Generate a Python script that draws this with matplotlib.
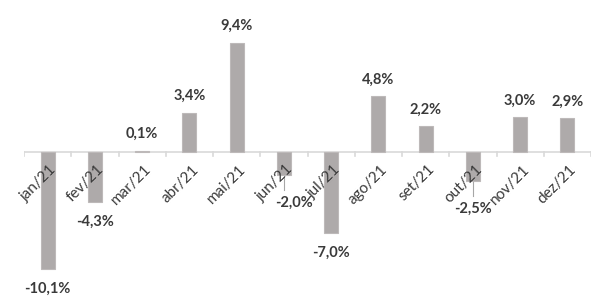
import matplotlib.pyplot as plt
import numpy as np

# monthly variation (%)
months = ['jan/21', 'fev/21', 'mar/21', 'abr/21', 'mai/21', 'jun/21',
          'jul/21', 'ago/21', 'set/21', 'out/21', 'nov/21', 'dez/21']
values = [-10.1, -4.3, 0.1, 3.4, 9.4, -2.0, -7.0, 4.8, 2.2, -2.5, 3.0, 2.9]
labels = ['-10,1%', '-4,3%', '0,1%', '3,4%', '9,4%', '-2,0%',
          '-7,0%', '4,8%', '2,2%', '-2,5%', '3,0%', '2,9%']

plt.rcParams['font.family'] = ['Lato', 'DejaVu Sans']

fig = plt.figure(figsize=(6.07, 3.08), dpi=100)
ax = fig.add_axes([24 / 607, 0, (591 - 24) / 607, 1])

x = np.arange(len(months))
ax.bar(x, values, width=0.3, color='#aeaaaa', edgecolor='#bdb9b9', linewidth=0.8, zorder=2)

ax.set_xlim(-0.5, 11.5)
ax.set_ylim(-13.45, 13.1)
ax.axhline(0, color='#d9d9d9', linewidth=1.2, zorder=1)

for s in ax.spines.values():
    s.set_visible(False)
ax.set_yticks([])
ax.set_xticks([])

# boundary tick marks
for b in np.arange(-0.5, 12, 1):
    ax.plot([b, b], [0, -0.35], color='#d9d9d9', linewidth=1.2, zorder=1)

# rotated month labels
for i, m in enumerate(months):
    ax.annotate(m, xy=(i, 0), xytext=(5, -11), textcoords='offset points',
                rotation=45, rotation_mode='anchor', ha='right', va='center',
                fontsize=11, color='#3a3a3a')

# data labels
for i, (v, t) in enumerate(zip(values, labels)):
    if t in ('-2,0%', '-2,5%'):
        dx = 7 if t == '-2,0%' else 0
        ax.annotate(t, xy=(i, v), xytext=(dx, -20), textcoords='offset points',
                    ha='center', va='center', fontsize=10.5, fontweight='bold',
                    color='#3a3a3a')
        ax.plot([i, i], [v, v - 1.3], color='#a6a6a6', linewidth=0.8, zorder=1)
    elif v >= 0:
        ax.annotate(t, xy=(i, v), xytext=(0, 12), textcoords='offset points',
                    ha='center', va='center', fontsize=10.5, fontweight='bold',
                    color='#3a3a3a')
    else:
        ax.annotate(t, xy=(i, v), xytext=(0, -14), textcoords='offset points',
                    ha='center', va='center', fontsize=10.5, fontweight='bold',
                    color='#3a3a3a')

fig.savefig('out.png', dpi=100)
